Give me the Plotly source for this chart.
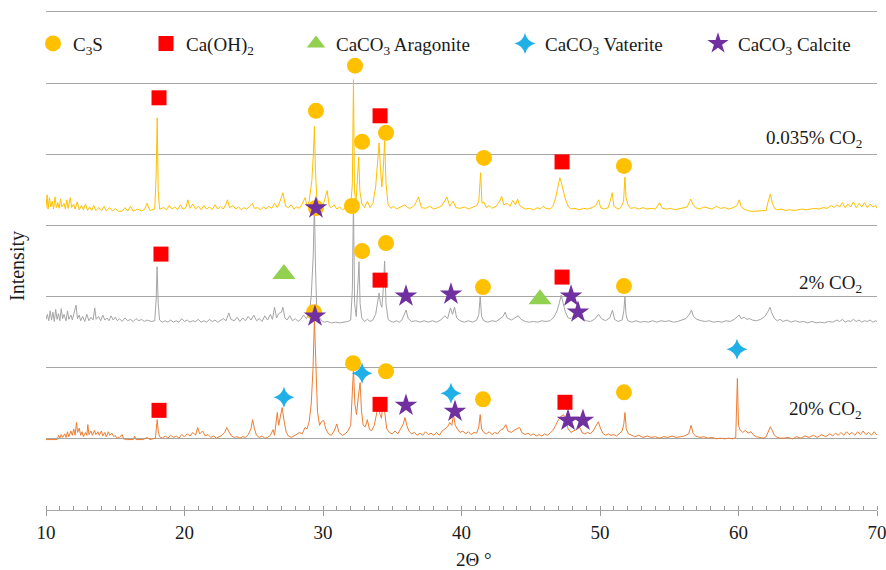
import plotly.graph_objects as go

# ---------------- data (2theta in degrees, intensity in counts above each pattern's baseline) ----------------
pattern_0035 = [(10.0,60),(10.08,240),(10.15,40),(10.25,200),(10.35,70),(10.45,150),(10.55,40),(10.65,210),(10.75,60),(10.85,130),(10.95,50),(11.05,180),(11.15,70),(11.3,120),(11.4,40),(11.5,170),(11.6,50),(11.75,200),(11.85,60),(12.0,110),(12.1,40),(12.25,140),(12.4,30),(12.55,90),(12.7,30),(12.85,110),(13.0,20),(13.15,70),(13.3,20),(13.45,90),(13.6,20),(13.8,60),(14.0,15),(14.2,80),(14.35,15),(14.6,60),(14.8,10),(15.0,50),(15.2,10),(15.5,10),(15.7,60),(15.9,10),(16.1,80),(16.3,10),(16.6,40),(16.9,15),(17.1,30),(17.3,120),(17.5,20),(17.85,40),(17.95,500),(18.03,1320),(18.1,300),(18.2,40),(18.5,60),(18.7,30),(18.9,90),(19.1,40),(19.3,70),(19.5,30),(19.7,100),(19.9,40),(20.1,60),(20.25,170),(20.4,50),(20.6,110),(20.8,40),(21.0,80),(21.2,30),(21.4,90),(21.6,40),(21.8,70),(22.0,30),(22.2,100),(22.4,40),(22.6,80),(22.8,40),(23.0,110),(23.1,170),(23.25,60),(23.5,90),(23.7,40),(23.9,70),(24.1,30),(24.3,60),(24.5,40),(24.7,80),(24.9,120),(25.05,50),(25.3,60),(25.5,30),(25.7,70),(25.9,40),(26.1,80),(26.3,50),(26.5,120),(26.7,60),(26.9,150),(27.1,270),(27.3,80),(27.5,60),(27.7,100),(27.9,40),(28.1,70),(28.3,50),(28.5,110),(28.7,200),(28.85,80),(29.0,150),(29.2,450),(29.3,800),(29.38,1200),(29.45,600),(29.55,200),(29.7,140),(29.85,60),(30.0,90),(30.3,300),(30.45,80),(30.6,60),(30.8,100),(31.0,40),(31.2,70),(31.4,30),(31.6,50),(31.8,30),(32.0,80),(32.12,400),(32.2,1860),(32.27,300),(32.38,120),(32.5,450),(32.58,770),(32.66,300),(32.8,120),(33.0,60),(33.2,150),(33.4,60),(33.6,120),(33.8,350),(33.95,700),(34.05,970),(34.15,600),(34.25,350),(34.35,600),(34.45,1000),(34.55,400),(34.7,100),(34.9,50),(35.1,80),(35.3,40),(35.6,70),(35.9,100),(36.1,60),(36.3,50),(36.6,90),(36.9,210),(37.1,60),(37.4,50),(37.7,80),(38.0,40),(38.3,60),(38.6,90),(38.95,210),(39.15,80),(39.4,150),(39.6,60),(39.9,50),(40.2,70),(40.5,40),(40.8,60),(41.1,90),(41.25,150),(41.38,550),(41.48,120),(41.6,140),(41.8,60),(42.0,90),(42.2,50),(42.5,80),(42.75,150),(42.9,220),(43.05,100),(43.3,120),(43.5,80),(43.7,160),(43.9,100),(44.05,180),(44.2,90),(44.4,60),(44.6,40),(44.9,50),(45.2,30),(45.5,60),(45.7,40),(45.9,80),(46.1,50),(46.4,40),(46.6,80),(46.8,200),(46.95,330),(47.1,480),(47.2,420),(47.35,300),(47.5,180),(47.7,80),(47.9,40),(48.2,50),(48.5,30),(48.8,50),(49.1,40),(49.4,60),(49.7,90),(49.9,170),(50.05,60),(50.3,40),(50.6,60),(50.8,200),(50.88,270),(51.0,80),(51.3,40),(51.5,60),(51.7,150),(51.8,490),(51.88,200),(52.0,110),(52.2,50),(52.5,60),(52.8,40),(53.1,60),(53.4,40),(53.7,50),(54.0,40),(54.3,130),(54.5,50),(54.8,40),(55.1,50),(55.4,30),(55.7,40),(56.0,50),(56.3,70),(56.55,180),(56.7,110),(56.9,60),(57.2,40),(57.5,70),(57.8,50),(58.1,40),(58.4,80),(58.7,50),(59.0,60),(59.3,40),(59.6,60),(59.9,90),(60.05,170),(60.2,70),(60.4,40),(60.6,30),(60.8,10),(61.2,10),(61.6,10),(62.0,20),(62.15,150),(62.3,250),(62.45,120),(62.6,50),(62.8,30),(63.1,40),(63.4,20),(63.7,30),(64.0,20),(64.3,30),(64.6,40),(64.9,30),(65.2,40),(65.5,50),(65.8,40),(66.1,60),(66.4,50),(66.7,90),(66.9,60),(67.1,100),(67.3,70),(67.5,130),(67.7,60),(67.9,110),(68.1,70),(68.3,140),(68.5,60),(68.7,120),(68.9,70),(69.1,130),(69.3,60),(69.5,110),(69.7,70),(69.9,90),(70.0,50)]

pattern_2 = [(10.0,80),(10.1,150),(10.2,60),(10.3,200),(10.4,70),(10.5,180),(10.6,50),(10.7,220),(10.8,80),(10.9,160),(11.0,60),(11.1,230),(11.2,90),(11.3,150),(11.45,60),(11.55,200),(11.65,80),(11.8,140),(11.9,70),(12.05,180),(12.17,280),(12.27,90),(12.4,140),(12.5,60),(12.65,120),(12.8,50),(12.95,150),(13.1,60),(13.25,110),(13.4,70),(13.52,240),(13.62,80),(13.8,120),(13.95,60),(14.1,140),(14.25,70),(14.4,100),(14.55,60),(14.7,130),(14.85,70),(15.0,110),(15.15,60),(15.3,90),(15.5,50),(15.7,100),(15.9,60),(16.1,80),(16.3,50),(16.5,90),(16.7,60),(16.9,80),(17.1,50),(17.3,70),(17.6,50),(17.85,60),(17.95,350),(18.02,820),(18.1,300),(18.2,70),(18.4,40),(18.6,60),(18.8,40),(19.0,70),(19.2,40),(19.4,60),(19.6,40),(19.8,90),(20.0,50),(20.2,70),(20.4,40),(20.6,60),(20.8,50),(21.0,80),(21.2,40),(21.4,60),(21.6,40),(21.8,80),(22.0,50),(22.2,70),(22.4,40),(22.6,60),(22.8,90),(23.0,60),(23.2,170),(23.35,80),(23.6,60),(23.8,110),(24.0,50),(24.2,100),(24.4,60),(24.6,120),(24.8,70),(25.0,140),(25.2,60),(25.4,90),(25.6,50),(25.8,130),(26.0,70),(26.2,150),(26.35,80),(26.5,250),(26.65,100),(26.8,160),(27.0,180),(27.1,250),(27.25,100),(27.4,70),(27.6,130),(27.8,60),(28.0,90),(28.2,50),(28.4,80),(28.6,140),(28.8,90),(29.0,160),(29.15,400),(29.3,1000),(29.38,1720),(29.46,800),(29.55,200),(29.7,120),(29.9,60),(30.1,40),(30.3,50),(30.6,30),(30.9,40),(31.2,30),(31.5,40),(31.8,50),(32.0,70),(32.12,500),(32.2,1750),(32.28,300),(32.4,120),(32.52,500),(32.6,890),(32.68,300),(32.8,100),(33.0,50),(33.2,80),(33.4,50),(33.6,70),(33.8,150),(33.95,380),(34.05,450),(34.15,300),(34.25,250),(34.35,500),(34.45,900),(34.55,300),(34.7,80),(34.9,50),(35.1,40),(35.3,60),(35.5,40),(35.7,70),(35.9,150),(36.0,210),(36.15,90),(36.4,50),(36.7,60),(37.0,40),(37.3,60),(37.6,40),(37.9,60),(38.2,40),(38.5,70),(38.8,130),(39.0,90),(39.2,240),(39.35,150),(39.5,250),(39.65,100),(39.9,60),(40.2,40),(40.5,60),(40.8,40),(41.1,70),(41.25,150),(41.35,400),(41.45,120),(41.6,60),(41.9,40),(42.2,60),(42.5,50),(42.8,90),(43.0,120),(43.15,180),(43.3,100),(43.6,70),(43.9,100),(44.1,130),(44.3,80),(44.6,50),(44.9,40),(45.2,50),(45.5,40),(45.8,60),(46.1,50),(46.4,60),(46.7,120),(46.9,200),(47.05,300),(47.2,420),(47.35,300),(47.5,180),(47.7,100),(47.9,90),(48.1,130),(48.3,180),(48.5,240),(48.65,120),(48.8,80),(49.0,60),(49.3,50),(49.6,80),(49.9,150),(50.1,90),(50.4,60),(50.7,100),(50.9,210),(51.05,80),(51.3,50),(51.6,70),(51.72,200),(51.8,400),(51.88,150),(52.0,60),(52.3,40),(52.6,60),(52.9,40),(53.2,50),(53.5,40),(53.8,60),(54.1,40),(54.4,60),(54.7,50),(55.0,60),(55.3,40),(55.6,50),(55.9,70),(56.2,90),(56.45,150),(56.6,210),(56.75,120),(57.0,80),(57.3,60),(57.6,50),(57.9,60),(58.2,40),(58.5,50),(58.8,40),(59.1,60),(59.4,50),(59.7,80),(59.9,110),(60.05,140),(60.2,90),(60.4,110),(60.6,80),(60.8,90),(61.0,70),(61.3,60),(61.6,80),(61.9,120),(62.1,180),(62.28,250),(62.4,170),(62.6,90),(62.8,60),(63.0,80),(63.2,50),(63.5,70),(63.8,40),(64.1,60),(64.4,40),(64.7,50),(65.0,30),(65.3,50),(65.6,30),(65.9,40),(66.2,30),(66.5,50),(66.8,40),(67.1,70),(67.3,50),(67.5,80),(67.7,40),(67.9,60),(68.1,50),(68.3,80),(68.5,50),(68.7,70),(68.9,40),(69.1,60),(69.3,50),(69.5,70),(69.7,40),(69.9,60),(70.0,50)]

pattern_20 = [(10.0,0),(10.5,0),(10.8,0),(10.9,60),(11.0,20),(11.1,70),(11.2,30),(11.35,80),(11.45,30),(11.55,110),(11.65,40),(11.8,120),(11.9,60),(12.0,150),(12.1,60),(12.2,240),(12.28,100),(12.4,160),(12.5,60),(12.6,110),(12.7,40),(12.85,100),(12.95,60),(13.02,210),(13.1,70),(13.25,120),(13.35,60),(13.5,130),(13.6,70),(13.75,110),(13.85,60),(14.0,120),(14.1,50),(14.25,100),(14.35,40),(14.5,110),(14.6,60),(14.75,90),(14.9,40),(15.0,60),(15.1,20),(15.3,30),(15.5,70),(15.6,10),(15.8,0),(16.3,0),(16.4,50),(16.5,0),(17.0,0),(17.3,30),(17.5,0),(17.9,20),(17.97,150),(18.03,280),(18.1,120),(18.2,40),(18.4,20),(18.6,50),(18.8,20),(19.0,60),(19.2,30),(19.4,50),(19.6,20),(19.8,70),(20.0,40),(20.2,80),(20.4,50),(20.6,100),(20.8,60),(20.95,170),(21.1,80),(21.3,120),(21.5,50),(21.7,70),(21.9,30),(22.1,50),(22.3,20),(22.5,40),(22.7,60),(22.9,100),(23.05,170),(23.2,110),(23.4,50),(23.6,30),(23.8,40),(24.0,20),(24.2,40),(24.4,30),(24.6,70),(24.8,150),(24.92,280),(25.05,150),(25.2,60),(25.4,30),(25.6,50),(25.8,20),(26.0,30),(26.2,60),(26.4,140),(26.5,60),(26.62,250),(26.7,380),(26.8,200),(26.92,300),(27.05,450),(27.2,250),(27.35,100),(27.5,50),(27.7,30),(27.9,50),(28.1,70),(28.3,100),(28.5,80),(28.7,170),(28.85,150),(29.0,250),(29.15,500),(29.28,1000),(29.38,1690),(29.48,1000),(29.6,400),(29.75,200),(29.88,250),(30.05,270),(30.2,150),(30.4,80),(30.6,60),(30.8,120),(31.0,220),(31.15,100),(31.4,60),(31.6,80),(31.8,120),(32.0,200),(32.1,600),(32.2,990),(32.3,500),(32.42,350),(32.55,600),(32.68,800),(32.78,400),(32.9,200),(33.05,180),(33.2,280),(33.35,150),(33.5,120),(33.7,200),(33.85,350),(34.0,490),(34.12,350),(34.22,300),(34.35,560),(34.48,300),(34.6,150),(34.8,100),(35.0,80),(35.2,120),(35.4,80),(35.6,150),(35.8,220),(35.92,310),(36.05,200),(36.2,120),(36.4,80),(36.6,100),(36.8,60),(37.0,90),(37.2,60),(37.4,110),(37.6,70),(37.8,90),(38.0,60),(38.2,100),(38.4,60),(38.6,120),(38.8,150),(39.0,180),(39.15,240),(39.3,200),(39.42,350),(39.55,200),(39.7,150),(39.9,100),(40.1,120),(40.3,80),(40.5,110),(40.7,70),(40.9,100),(41.1,90),(41.25,180),(41.35,350),(41.45,150),(41.6,100),(41.8,80),(42.0,110),(42.2,70),(42.4,100),(42.6,80),(42.8,130),(43.0,150),(43.2,210),(43.35,120),(43.6,100),(43.8,130),(44.0,150),(44.2,170),(44.35,100),(44.6,70),(44.8,90),(45.0,60),(45.2,80),(45.4,50),(45.6,70),(45.8,50),(46.0,80),(46.2,60),(46.4,90),(46.6,130),(46.8,200),(47.0,280),(47.2,330),(47.38,350),(47.55,250),(47.7,150),(47.9,100),(48.1,120),(48.3,150),(48.55,170),(48.7,100),(48.9,80),(49.1,100),(49.3,80),(49.5,120),(49.7,180),(49.88,250),(50.05,150),(50.2,90),(50.4,60),(50.6,80),(50.8,60),(51.0,70),(51.2,50),(51.4,80),(51.6,120),(51.72,220),(51.8,380),(51.9,150),(52.05,80),(52.3,60),(52.5,40),(52.8,60),(53.1,30),(53.4,50),(53.7,30),(54.0,40),(54.3,20),(54.6,40),(54.9,30),(55.2,50),(55.5,30),(55.8,40),(56.1,50),(56.4,80),(56.58,200),(56.72,90),(56.9,50),(57.2,30),(57.5,40),(57.8,20),(58.1,30),(58.4,10),(58.7,20),(59.0,10),(59.3,20),(59.6,10),(59.8,30),(59.92,860),(60.0,200),(60.1,140),(60.3,100),(60.5,130),(60.7,90),(60.9,110),(61.1,60),(61.3,40),(61.5,30),(61.8,20),(62.0,40),(62.15,100),(62.3,180),(62.45,120),(62.6,60),(62.8,30),(63.0,20),(63.3,20),(63.6,30),(63.9,10),(64.2,40),(64.5,20),(64.8,50),(65.1,30),(65.4,60),(65.7,30),(66.0,70),(66.3,40),(66.6,80),(66.8,50),(67.0,90),(67.2,60),(67.4,100),(67.6,60),(67.8,110),(68.0,70),(68.2,100),(68.4,60),(68.6,110),(68.8,70),(69.0,120),(69.2,70),(69.4,100),(69.6,60),(69.8,110),(70.0,60)]

series_names = ["0.035% CO<sub>2</sub>", "2% CO<sub>2</sub>", "20% CO<sub>2</sub>"]
series_baseline = [4190, 2600, 990]      # vertical offset of each stacked pattern
series_colors = ["#FFC000", "#A5A5A5", "#ED7D31"]
series_label_y = [5220, 3180, 1400]

# phase markers: (2theta, plotted height)
c3s_x = [29.49, 32.31, 32.82, 34.55, 41.62, 51.73, 29.49, 32.09, 32.82, 34.55, 41.55, 51.73, 29.35, 32.17, 34.55, 41.55, 51.73]
c3s_y = [5611, 6245, 5175, 5301, 4949, 4837, 4245, 4273, 3640, 3752, 3133, 3147, 2781, 2063, 1950, 1556, 1654]
caoh_x = [18.16, 34.12, 47.26, 18.30, 34.12, 47.26, 18.16, 34.12, 47.47]
caoh_y = [5794, 5541, 4893, 3597, 3231, 3274, 1401, 1485, 1514]
arag_x = [27.18, 45.67]
arag_y = [3316, 2964]
vat_x = [27.18, 32.82, 39.24, 59.89]
vat_y = [1584, 1922, 1640, 2260]
calc_x = [29.49, 29.42, 35.99, 39.24, 47.91, 48.41, 35.99, 39.53, 47.69, 48.77]
calc_y = [4245, 2724, 3006, 3034, 3006, 2781, 1471, 1387, 1260, 1260]

phase_names = ["C<sub>3</sub>S", "Ca(OH)<sub>2</sub>", "CaCO<sub>3</sub> Aragonite", "CaCO<sub>3</sub> Vaterite", "CaCO<sub>3</sub> Calcite"]

# ---------------- figure ----------------
FONT = "Liberation Serif, Times New Roman, serif"
TXT = "#1a1a1a"
GRID = "#A6A6A6"
fig = go.Figure()

for pat, base, col in zip([pattern_0035, pattern_2, pattern_20], series_baseline, series_colors):
    xs = [p[0] for p in pat]
    ys = [p[1] + base for p in pat]
    fig.add_trace(go.Scatter(x=xs, y=ys, mode="lines", line=dict(color=col, width=1),
                             showlegend=False, hoverinfo="skip"))

marker_specs = [
    (c3s_x, c3s_y, dict(symbol="circle", color="#FFC000", size=16)),
    (caoh_x, caoh_y, dict(symbol="square", color="#FF0000", size=15)),
    (arag_x, arag_y, dict(symbol="triangle-up", color="#92D050", size=20)),
    (vat_x, vat_y, dict(symbol="star-diamond", color="#1FB0E8", size=15)),
    (calc_x, calc_y, dict(symbol="star", color="#7030A0", size=17)),
]
legend_ids = ["legend", "legend2", "legend3", "legend4", "legend5"]
for (mx, my, mk), nm, lid in zip(marker_specs, phase_names, legend_ids):
    fig.add_trace(go.Scatter(x=mx, y=my, mode="markers", name=nm, legend=lid,
                             marker=dict(line=dict(width=0), **mk)))

# legend positions (symbol centres at pixel 53,166,316,525,718)
plot_l, plot_w = 46, 831
leg_centers = [53, 166, 316, 525, 718]
legend_layout = {}
for lid, cx in zip(legend_ids, leg_centers):
    legend_layout[lid] = dict(x=(cx - 20 - plot_l) / plot_w, y=0.9366, xanchor="left", yanchor="middle",
                              bgcolor="rgba(0,0,0,0)", borderwidth=0,
                              font=dict(family=FONT, size=19, color=TXT))

for nm, ly in zip(series_names, series_label_y):
    fig.add_annotation(x=(864 - plot_l) / plot_w, xref="paper", y=ly, yref="y", text=nm,
                       showarrow=False, xanchor="right", yanchor="middle",
                       font=dict(family=FONT, size=19, color=TXT))

fig.add_annotation(x=(474 - plot_l) / plot_w, xref="paper", y=(509.5 - 559) / 497, yref="paper",
                   text="2Θ °", showarrow=False, xanchor="center", yanchor="middle",
                   font=dict(family=FONT, size=19, color=TXT))
fig.add_annotation(x=(18 - plot_l) / plot_w, xref="paper", y=0.49, yref="paper",
                   text="Intensity", textangle=-90, showarrow=False, xanchor="center", yanchor="middle",
                   font=dict(family=FONT, size=20, color=TXT))

fig.update_layout(
    width=886, height=570,
    margin=dict(l=46, r=9, t=12, b=60),
    paper_bgcolor="white", plot_bgcolor="white",
    font=dict(family=FONT, size=19, color=TXT),
    **legend_layout,
)
fig.update_xaxes(range=[10, 70], dtick=10, tick0=10, showgrid=False, zeroline=False,
                 showline=True, linecolor=GRID, linewidth=1, mirror=True, automargin=False,
                 ticks="outside", ticklen=5, tickcolor="#9A9A9A", ticklabeloverflow="allow",
                 minor=dict(dtick=1, ticks="inside", ticklen=4, tickcolor="#9A9A9A", showgrid=False),
                 tickfont=dict(family=FONT, size=19, color=TXT))
fig.update_yaxes(range=[0, 7000], dtick=1000, tick0=0, showgrid=True, gridcolor=GRID, gridwidth=1,
                 zeroline=False, showline=False, showticklabels=False, ticks="", automargin=False)

fig.write_html("out.html", config={"displayModeBar": False},
               post_script="document.body.style.margin='0';")
